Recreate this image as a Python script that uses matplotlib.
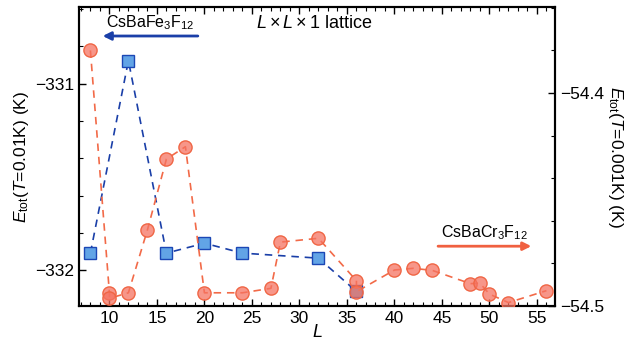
import matplotlib
matplotlib.use("Agg")
import matplotlib.pyplot as plt
from matplotlib.ticker import MultipleLocator

plt.rcParams['font.family'] = ['Liberation Sans', 'DejaVu Sans']
plt.rcParams['mathtext.fontset'] = 'custom'
plt.rcParams['mathtext.rm'] = 'Liberation Sans'
plt.rcParams['mathtext.it'] = 'Liberation Sans:italic'

# CsBaFe3F12 (left axis)
L_fe = [8, 12, 16, 20, 24, 32, 36]
E_fe = [-331.907, -330.877, -331.907, -331.854, -331.907, -331.934, -332.112]

# CsBaCr3F12 (right axis)
L_cr = [8, 10, 10, 12, 14, 16, 18, 20, 24, 27, 28, 32, 36, 36, 40, 42, 44, 48, 49, 50, 52, 56]
E_cr = [-54.380, -54.4938, -54.4964, -54.4938, -54.4643, -54.4310, -54.4252, -54.4938,
        -54.4938, -54.4917, -54.4700, -54.4682, -54.4881, -54.4933, -54.4831, -54.4823,
        -54.4833, -54.4895, -54.4893, -54.4944, -54.4984, -54.4928]

fig = plt.figure(figsize=(6.29, 3.44), dpi=100)
fig.subplots_adjust(left=79/629, right=555/629, bottom=1-306/344, top=1-7/344)
ax = fig.add_subplot(111)
ax2 = ax.twinx()

ax.plot(L_fe, E_fe, ls=(0, (4.5, 3.5)), color='#1a3fa8', lw=1.2, marker='s', ms=8,
        mfc='#62a4e6', mec='#1b47b5', mew=1.0, zorder=3)
ax2.plot(L_cr, E_cr, ls=(0, (4.5, 3.5)), color='#f26a48', lw=1.2, marker='o', ms=9.5,
         mfc=(0.96, 0.45, 0.38, 0.75), mec='#f06645', mew=1.0, zorder=3)

ax.set_xlim(6.8, 56.9)
ax.set_ylim(-332.19, -330.59)
ax2.set_ylim(-54.5, -54.3596)

ax.xaxis.set_major_locator(MultipleLocator(5))
ax.xaxis.set_minor_locator(MultipleLocator(1))
ax.yaxis.set_major_locator(MultipleLocator(1))
ax.yaxis.set_minor_locator(MultipleLocator(0.2))
ax2.yaxis.set_major_locator(MultipleLocator(0.1))
ax2.yaxis.set_minor_locator(MultipleLocator(0.02))

ax.tick_params(axis='x', which='both', direction='in', top=True, bottom=True, labelsize=12.5)
ax.tick_params(axis='y', which='both', direction='in', left=True, right=False, labelsize=12.5)
ax.tick_params(which='major', length=5, width=1)
ax.tick_params(which='minor', length=3, width=0.8)
ax2.tick_params(axis='y', which='both', direction='in', labelsize=12.5)
ax2.tick_params(which='major', length=5, width=1)
ax2.tick_params(which='minor', length=3, width=0.8)

for a in (ax, ax2):
    for s in a.spines.values():
        s.set_linewidth(1.5)

ax.set_yticks([-332, -331])
ax.set_yticklabels(['\u2212332', '\u2212331'])
ax2.set_yticks([-54.5, -54.4])
ax2.set_yticklabels(['\u221254.5', '\u221254.4'])

ax.set_xlabel(r'$\mathit{L}$', fontsize=13, labelpad=-1)
ax.set_ylabel(r'$\mathit{E}_{\mathrm{tot}}$($\mathit{T}$=0.01K) (K)', fontsize=12.5, labelpad=3)
ax2.set_ylabel(r'$\mathit{E}_{\mathrm{tot}}$($\mathit{T}$=0.001K) (K)', fontsize=12.5,
               rotation=270, labelpad=15)

tr = ax.get_xaxis_transform()
ax.text(14.3, 0.946, r'CsBaFe$_3$F$_{12}$', transform=tr, ha='center', va='center', fontsize=11.5)
ax.annotate('', xy=(9.0, 0.903), xytext=(19.6, 0.903), xycoords=tr, textcoords=tr,
            arrowprops=dict(arrowstyle='-|>', color='#1a3fa8', lw=2, mutation_scale=12))
ax.text(31.6, 0.946, r'$\mathit{L}\times\mathit{L}\times$1 lattice', transform=tr,
        ha='center', va='center', fontsize=13)
ax.text(49.5, 0.245, r'CsBaCr$_3$F$_{12}$', transform=tr, ha='center', va='center', fontsize=11.5)
ax.annotate('', xy=(54.7, 0.20), xytext=(44.3, 0.20), xycoords=tr, textcoords=tr,
            arrowprops=dict(arrowstyle='-|>', color='#f06040', lw=2, mutation_scale=12))

fig.savefig('out.png', dpi=100)
